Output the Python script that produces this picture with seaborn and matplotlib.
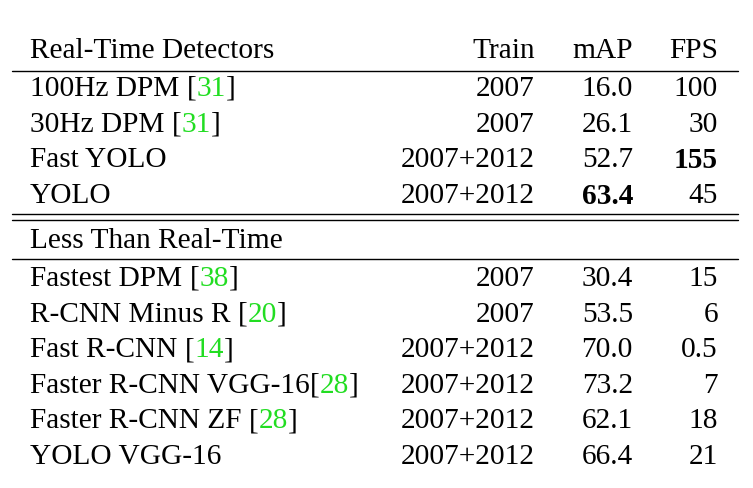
import matplotlib
matplotlib.use("Agg")
import matplotlib.pyplot as plt
import seaborn as sns

sns.set_theme(style="white", rc={"font.family": "Liberation Serif", "text.color": "black"})

# real-time block
rt_names = ["100Hz DPM ", "30Hz DPM ", "Fast YOLO", "YOLO"]
rt_refs = ["31", "31", "", ""]
rt_train = ["2007", "2007", "2007+2012", "2007+2012"]
rt_map = ["16.0", "26.1", "52.7", "63.4"]
rt_fps = ["100", "30", "155", "45"]

# less than real-time block
lt_names = ["Fastest DPM ", "R-CNN Minus R ", "Fast R-CNN ", "Faster R-CNN VGG-16",
            "Faster R-CNN ZF ", "YOLO VGG-16"]
lt_refs = ["38", "20", "14", "28", "28", ""]
lt_train = ["2007", "2007", "2007+2012", "2007+2012", "2007+2012", "2007+2012"]
lt_map = ["30.4", "53.5", "70.0", "73.2", "62.1", "66.4"]
lt_fps = ["15", "6", "0.5", "7", "18", "21"]

bold_cells = {("map", "63.4"), ("fps", "155")}

fig = plt.figure(figsize=(7.53, 4.89), dpi=100)
ax = fig.add_axes([0, 0, 1, 1])
ax.set_xlim(0, 753)
ax.set_ylim(489, 0)
ax.axis("off")
fs = 21.2
green = "#22dd22"
fig.canvas.draw()
renderer = fig.canvas.get_renderer()


def put_name(x, y, name, ref):
    t = ax.text(x, y, name, fontsize=fs, va="center", ha="left", color="black")
    if not ref:
        return
    parts = [("[", "black"), (ref, green), ("]", "black")]
    prev = t
    for s, c in parts:
        bb = prev.get_window_extent(renderer)
        x1 = ax.transData.inverted().transform((bb.x1, bb.y0))[0]
        prev = ax.text(x1, y, s, fontsize=fs, va="center", ha="left", color=c)


def put_row(y, name, ref, tr, mp, fp):
    put_name(30, y, name, ref)
    ax.text(535, y, tr, fontsize=fs, va="center", ha="right", color="black")
    ax.text(633, y, mp, fontsize=fs, va="center", ha="right", color="black",
            fontweight="bold" if ("map", mp) in bold_cells else "normal")
    ax.text(718, y, fp, fontsize=fs, va="center", ha="right", color="black",
            fontweight="bold" if ("fps", fp) in bold_cells else "normal")


put_row(51, "Real-Time Detectors", "", "Train", "mAP", "FPS")
ax.plot([12, 738], [72, 72], color="black", lw=1)
for i in range(len(rt_names)):
    put_row(89 + i * 35.7, rt_names[i], rt_refs[i], rt_train[i], rt_map[i], rt_fps[i])
ax.plot([12, 738], [215, 215], color="black", lw=1)
ax.plot([12, 738], [221, 221], color="black", lw=1)
ax.text(30, 241, "Less Than Real-Time", fontsize=fs, va="center", ha="left", color="black")
ax.plot([12, 738], [260, 260], color="black", lw=1)
for i in range(len(lt_names)):
    put_row(279 + i * 35.6, lt_names[i], lt_refs[i], lt_train[i], lt_map[i], lt_fps[i])

fig.savefig("out.png", dpi=100, facecolor="white")
